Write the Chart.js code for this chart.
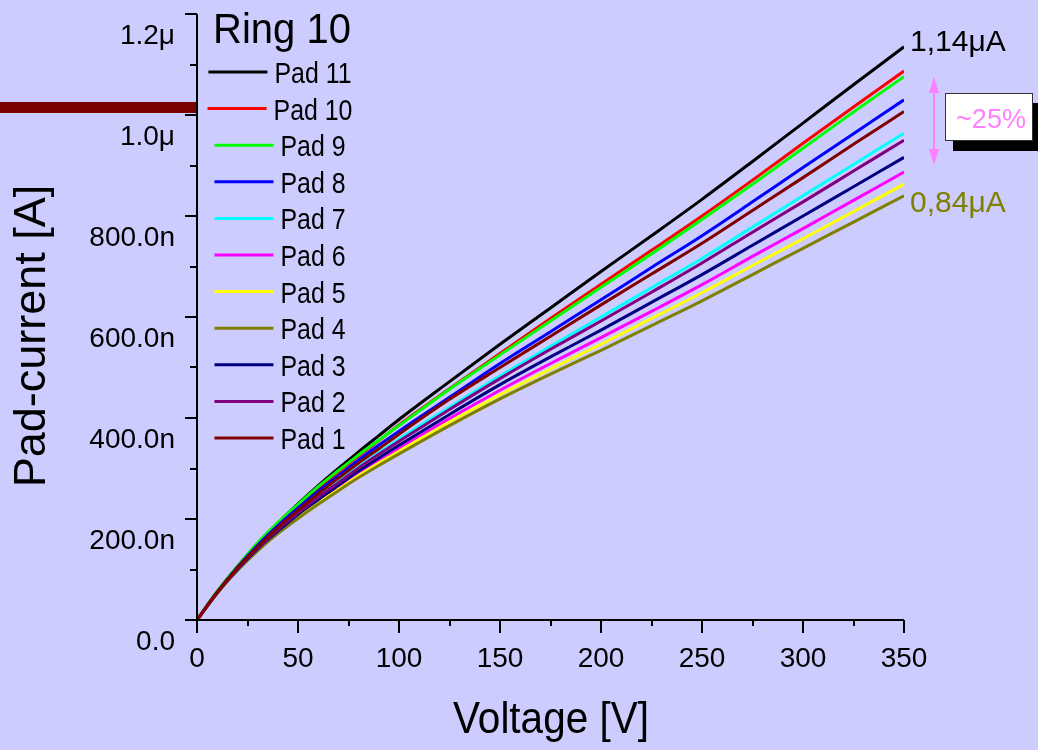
<!DOCTYPE html>
<html>
<head>
<meta charset="utf-8">
<script src="https://cdn.jsdelivr.net/npm/chart.js@4.4.0/dist/chart.umd.min.js"></script>
<style>
    html, body { margin: 0; padding: 0; background: #ccccff; }
    #wrap { width: 1038px; height: 750px; }
</style>
</head>
<body>
<div id="wrap"><canvas id="ivChart" width="1038" height="750"></canvas></div>
<script>
// Bias voltage [V]
const volts = [0, 10, 20, 30, 40, 50, 60, 70, 80, 90, 100, 125, 150, 175, 200, 225, 250, 275, 300, 325, 350];

// Pad currents [nA]
const pad11 = [0, 56, 106, 151, 192, 230, 266, 300, 333, 365, 397, 472, 546, 618, 690, 761, 833, 908, 984, 1060, 1135];
const pad10 = [0, 55, 105, 149, 189, 225, 260, 293, 325, 355, 386, 458, 528, 597, 665, 732, 800, 871, 944, 1016, 1087];
const pad9  = [0, 57, 106, 153, 193, 229, 264, 296, 327, 356, 385, 457, 525, 592, 659, 725, 793, 863, 934, 1006, 1076];
const pad8  = [0, 55, 104, 148, 187, 222, 255, 286, 317, 346, 374, 441, 508, 571, 634, 698, 761, 828, 896, 963, 1030];
const pad7  = [0, 54, 101, 143, 180, 213, 245, 274, 303, 331, 358, 421, 483, 542, 600, 658, 716, 778, 840, 902, 964];
const pad6  = [0, 54, 99, 139, 174, 206, 235, 263, 290, 315, 340, 399, 455, 508, 559, 611, 664, 720, 775, 831, 887];
const pad5  = [0, 53, 99, 138, 173, 203, 232, 259, 286, 311, 334, 392, 446, 497, 546, 597, 648, 702, 755, 809, 863];
const pad4  = [0, 53, 98, 137, 171, 201, 229, 256, 282, 306, 329, 385, 438, 487, 534, 583, 632, 684, 736, 788, 840];
const pad3  = [0, 54, 100, 141, 176, 209, 238, 267, 295, 321, 346, 407, 466, 521, 574, 629, 684, 742, 800, 858, 916];
const pad2  = [0, 54, 101, 142, 179, 212, 243, 272, 301, 328, 354, 417, 478, 536, 592, 649, 707, 768, 828, 889, 950];
const pad1  = [0, 55, 103, 145, 183, 217, 250, 281, 311, 339, 368, 437, 500, 562, 624, 685, 746, 811, 876, 942, 1007];

const padLabels = ['Pad 11', 'Pad 10', 'Pad 9', 'Pad 8', 'Pad 7', 'Pad 6', 'Pad 5', 'Pad 4', 'Pad 3', 'Pad 2', 'Pad 1'];
const padSeries = [pad11, pad10, pad9, pad8, pad7, pad6, pad5, pad4, pad3, pad2, pad1];
const padColors = ['#000000', '#ff0000', '#00ff00', '#0000ff', '#00ffff', '#ff00ff',
                   '#ffff00', '#808000', '#000080', '#800080', '#800000'];

// Axis ticks
const xTickValues = [0, 50, 100, 150, 200, 250, 300, 350];
const xMinorValues = [25, 75, 125, 175, 225, 275, 325];
const yTickValues = [0, 200, 400, 600, 800, 1000, 1200];
const yTickLabels = ['0.0', '200.0n', '400.0n', '600.0n', '800.0n', '1.0\u03bc', '1.2\u03bc'];
const yMinorValues = [100, 300, 500, 700, 900, 1100];

const FONT = '"Liberation Sans", Arial, sans-serif';

// Draw text, optionally squeezed horizontally
function drawText(ctx, str, px, py, size, color, align, sx) {
    ctx.save();
    ctx.translate(px, py);
    ctx.scale(sx || 1, 1);
    ctx.font = size + 'px ' + FONT;
    ctx.fillStyle = color;
    ctx.textAlign = align;
    ctx.textBaseline = 'alphabetic';
    ctx.fillText(str, 0, 0);
    ctx.restore();
}

// Background, axes, legend and notes
const decorPlugin = {
    id: 'decor',
    beforeDraw(chart) {
        const ctx = chart.ctx;
        ctx.save();
        ctx.fillStyle = '#ccccff';
        ctx.fillRect(0, 0, chart.width, chart.height);
        ctx.restore();
    },
    afterDraw(chart) {
        const ctx = chart.ctx;
        const xs = chart.scales.x;
        const ys = chart.scales.y;
        const x0 = xs.getPixelForValue(0);
        const y0 = ys.getPixelForValue(0);

        ctx.save();
        // dark red bar at the left edge
        ctx.fillStyle = '#7a0000';
        ctx.fillRect(0, 102, x0, 11);

        // axis lines
        ctx.strokeStyle = '#000';
        ctx.lineWidth = 2;
        ctx.beginPath();
        ctx.moveTo(x0, ys.getPixelForValue(1200));
        ctx.lineTo(x0, y0);
        ctx.lineTo(xs.getPixelForValue(350), y0);
        ctx.stroke();

        // y ticks
        ctx.beginPath();
        yTickValues.forEach(v => {
            const p = Math.round(ys.getPixelForValue(v));
            ctx.moveTo(x0, p); ctx.lineTo(x0 - 12, p);
        });
        yMinorValues.forEach(v => {
            const p = Math.round(ys.getPixelForValue(v));
            ctx.moveTo(x0, p); ctx.lineTo(x0 - 7, p);
        });
        // x ticks
        xTickValues.forEach(v => {
            const p = Math.round(xs.getPixelForValue(v));
            ctx.moveTo(p, y0); ctx.lineTo(p, y0 + 13);
        });
        xMinorValues.forEach(v => {
            const p = Math.round(xs.getPixelForValue(v));
            ctx.moveTo(p, y0); ctx.lineTo(p, y0 + 6);
        });
        ctx.stroke();
        ctx.restore();

        // tick labels
        yTickValues.forEach((v, i) => {
            drawText(ctx, yTickLabels[i], x0 - 22, ys.getPixelForValue(v) + 30, 28, '#000', 'right');
        });
        xTickValues.forEach(v => {
            drawText(ctx, String(v), xs.getPixelForValue(v), y0 + 47, 28, '#000', 'center');
        });

        // axis titles
        drawText(ctx, 'Voltage [V]', 551, 733, 44, '#000', 'center', 0.92);
        ctx.save();
        ctx.translate(45, 336);
        ctx.rotate(-Math.PI / 2);
        drawText(ctx, 'Pad-current [A]', 0, 0, 45, '#000', 'center');
        ctx.restore();

        // legend
        drawText(ctx, 'Ring 10', 282, 43, 43, '#000', 'center', 0.93);
        padLabels.forEach((label, i) => {
            const cy = 72 + i * 36.6;
            ctx.save();
            ctx.font = '30px ' + FONT;
            const tw = ctx.measureText(label).width * 0.83;
            ctx.restore();
            const total = 59 + 7 + tw;
            const left = 280 - total / 2;
            ctx.save();
            ctx.strokeStyle = padColors[i];
            ctx.lineWidth = 3;
            ctx.beginPath();
            ctx.moveTo(left, cy);
            ctx.lineTo(left + 59, cy);
            ctx.stroke();
            ctx.restore();
            drawText(ctx, label, left + 66, cy + 11, 30, '#000', 'left', 0.83);
        });

        // end value notes
        drawText(ctx, '1,14\u03bcA', 910, 51, 30, '#000', 'left');
        drawText(ctx, '0,84\u03bcA', 910, 212, 30, '#808000', 'left');

        // double arrow
        ctx.save();
        ctx.strokeStyle = '#ff80ff';
        ctx.fillStyle = '#ff80ff';
        ctx.lineWidth = 2;
        ctx.beginPath();
        ctx.moveTo(934, 88); ctx.lineTo(934, 154);
        ctx.stroke();
        ctx.beginPath();
        ctx.moveTo(934, 77); ctx.lineTo(929, 93); ctx.lineTo(939, 93); ctx.closePath();
        ctx.moveTo(934, 165); ctx.lineTo(929, 149); ctx.lineTo(939, 149); ctx.closePath();
        ctx.fill();

        // boxed note with shadow
        ctx.fillStyle = '#000';
        ctx.fillRect(953, 103, 90, 48);
        ctx.fillStyle = '#fff';
        ctx.fillRect(945, 93, 87, 48);
        ctx.strokeStyle = '#333';
        ctx.lineWidth = 1;
        ctx.strokeRect(945.5, 93.5, 87, 47);
        ctx.restore();
        drawText(ctx, '~25%', 991, 128, 27, '#ff80ff', 'center');
    }
};

const datasets = padSeries.map((series, i) => ({
    label: padLabels[i],
    data: volts.map((v, k) => ({ x: v, y: series[k] })),
    borderColor: padColors[i],
    borderWidth: 3,
    pointRadius: 0,
    fill: false,
    cubicInterpolationMode: 'monotone',
    order: padSeries.length - i
}));

new Chart(document.getElementById('ivChart').getContext('2d'), {
    type: 'line',
    data: { datasets: datasets },
    options: {
        responsive: false,
        animation: false,
        devicePixelRatio: 1,
        layout: { padding: { left: 197, right: 134, top: 14, bottom: 130 } },
        plugins: {
            legend: { display: false },
            tooltip: { enabled: false }
        },
        scales: {
            x: { type: 'linear', min: 0, max: 350, display: false },
            y: { type: 'linear', min: 0, max: 1200, display: false }
        }
    },
    plugins: [decorPlugin]
});
</script>
</body>
</html>
